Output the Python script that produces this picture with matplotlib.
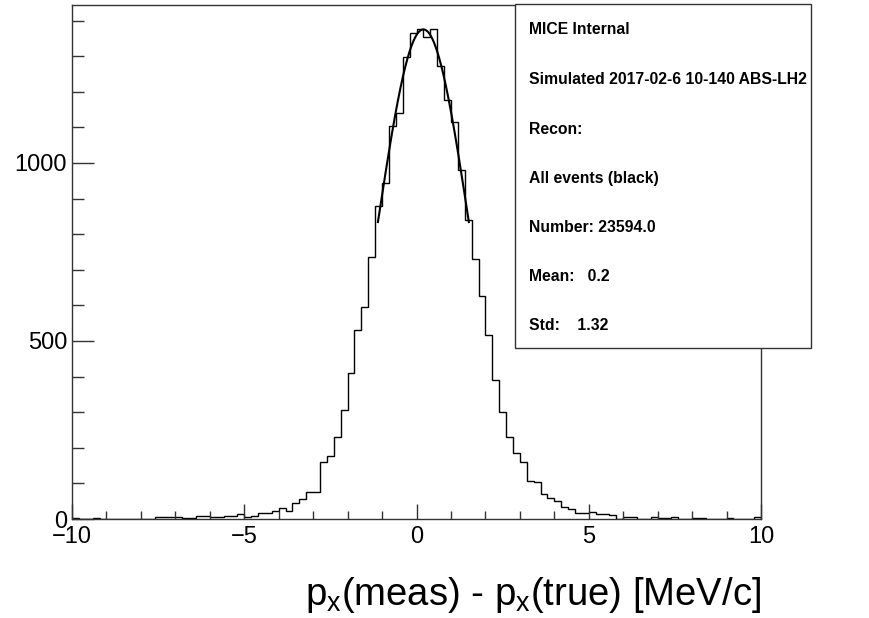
import numpy as np
import matplotlib
matplotlib.use("Agg")
import matplotlib.pyplot as plt
from matplotlib.patches import Rectangle
from matplotlib.ticker import MultipleLocator

plt.rcParams['font.family'] = ['Liberation Sans', 'DejaVu Sans']
plt.rcParams['mathtext.default'] = 'regular'

# Histogram: 100 bins of 0.2 MeV/c between -10 and 10
bin_edges = np.linspace(-10, 10, 101)
counts = [
    2, 1, 1, 3, 1, 0, 1, 1, 1, 1,
    1, 1, 5, 5, 5, 5, 2, 2, 8, 8,
    7, 7, 8, 9, 13, 5, 8, 16, 16, 22,
    30, 23, 46, 57, 75, 77, 159, 177, 229, 307,
    411, 532, 595, 735, 880, 945, 1104, 1140, 1297, 1364,
    1375, 1355, 1377, 1273, 1177, 1114, 980, 840, 730, 627,
    517, 389, 300, 231, 184, 159, 106, 104, 71, 58,
    51, 33, 28, 16, 18, 19, 14, 13, 12, 1,
    6, 5, 1, 1, 7, 2, 2, 6, 1, 1,
    4, 4, 1, 1, 1, 3, 1, 1, 1, 5,
]

# Gaussian fit parameters (fit over mean +/- 1 sigma)
fit_amplitude = 1375.0
fit_mean = 0.2
fit_sigma = 1.32

x_ticks = [-10, -5, 0, 5, 10]
y_ticks = [0, 500, 1000]
y_max = 1445

x_label = r"p$_{x}$(meas) - p$_{x}$(true) [MeV/c]"
stats_lines = [
    "MICE Internal",
    "Simulated 2017-02-6 10-140 ABS-LH2",
    "Recon:",
    "All events (black)",
    "Number: 23594.0",
    "Mean:   0.2",
    "Std:    1.32",
]

W, H = 869, 618
fig = plt.figure(figsize=(W / 100, H / 100), dpi=100)
ax_l, ax_r, ax_t, ax_b = 72, 761, 4.5, 519
ax = fig.add_axes([ax_l / W, 1 - ax_b / H, (ax_r - ax_l) / W, (ax_b - ax_t) / H])

ax.stairs(counts, bin_edges, color='black', lw=1.0)

xf = np.linspace(fit_mean - fit_sigma, fit_mean + fit_sigma, 300)
yf = fit_amplitude * np.exp(-0.5 * ((xf - fit_mean) / fit_sigma) ** 2)
ax.plot(xf, yf, color='black', lw=1.5)

ax.set_xlim(-10, 10)
ax.set_ylim(0, y_max)
ax.set_xticks(x_ticks)
ax.set_yticks(y_ticks)
ax.xaxis.set_minor_locator(MultipleLocator(1))
ax.yaxis.set_minor_locator(MultipleLocator(100))
ax.tick_params(which='both', direction='in', top=False, right=False,
               labelsize=17, width=1.0, color='#333333')
ax.tick_params(axis='x', which='major', length=10.8, pad=5)
ax.tick_params(axis='x', which='minor', length=5.8)
ax.tick_params(axis='y', which='major', length=15.5, pad=3.5)
ax.tick_params(axis='y', which='minor', length=8.5)
for sp in ax.spines.values():
    sp.set_linewidth(1.0)
    sp.set_color('#333333')

ax.set_xlabel(x_label, fontsize=27.5, loc='right')
ax.xaxis.set_label_coords(1.0, -0.108)

# Statistics box
bx0, bx1, by0, by1 = 515, 810.5, 4, 347.5
box = Rectangle((bx0 / W, 1 - by1 / H), (bx1 - bx0) / W, (by1 - by0) / H,
                transform=fig.transFigure, facecolor='white', edgecolor='#333333',
                lw=1.0, zorder=5)
fig.add_artist(box)
line_y = [30, 79.5, 129, 178, 227.5, 277, 326]
for s, yy in zip(stats_lines, line_y):
    fig.text(529 / W, 1 - yy / H, s, fontsize=11.3, fontweight='bold',
             ha='left', va='center', zorder=6)

fig.savefig("out.png", dpi=100)
